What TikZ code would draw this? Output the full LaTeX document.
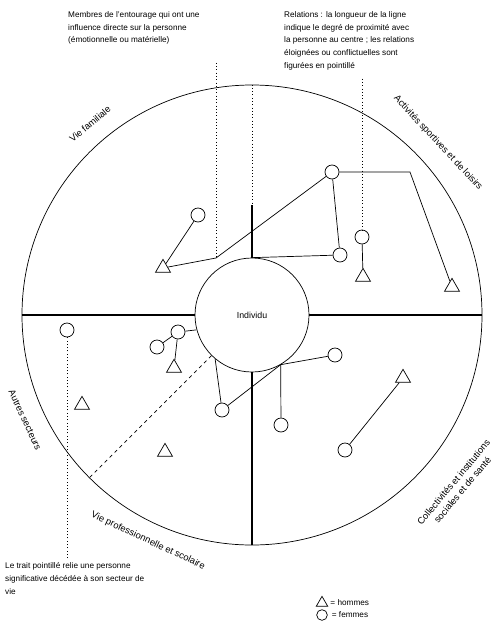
\documentclass[tikz,border=0pt]{standalone}
\usepackage{fontspec}
\setmainfont{Liberation Sans}
\usetikzlibrary{shapes.geometric,calc}

\tikzset{
  fem/.style={circle, draw, line width=0.6pt, inner sep=0pt, minimum size=4.2mm},
  hom/.style={regular polygon, regular polygon sides=3, draw, line width=0.6pt, inner sep=0pt, minimum size=5.2mm},
  link/.style={line width=0.6pt},
  guide/.style={dotted, line width=0.8pt},
  sector/.style={line width=1.1pt},
  note/.style={font=\fontsize{7}{11}\selectfont, align=left, anchor=north west, inner sep=0pt},
  arclabel/.style={font=\fontsize{8}{10}\selectfont, align=center, inner sep=0pt},
}

\begin{document}
\begin{tikzpicture}[x=0.03cm, y=-0.03cm]
  \useasboundingbox (0,0) rectangle (499,633);

  % life space and the person in the middle
  \node[circle, draw, line width=0.6pt, inner sep=0pt, minimum size=13.8cm] (space) at (252,315) {};
  \node[circle, draw, line width=0.6pt, inner sep=0pt, minimum size=3.42cm,
        font=\fontsize{7.5}{8}\selectfont] (ego) at (252,315) {Individu};

  \coordinate (split) at (252,205);
  \draw[sector] (space.west) -- (ego.west);
  \draw[sector] (space.east) -- (ego.east);
  \draw[guide] (space.north) -- (split);
  \draw[sector] (split) -- (ego.north);
  \draw[sector] (space.south) -- (ego.south);

  % sector names
  \node[arclabel, rotate=40] (lbfam) at (90,124) {Vie familiale};
  \node[arclabel, rotate=-47] (lbsport) at (438,143) {Activités sportives et de loisirs};
  \node[arclabel, rotate=-65] (lbother) at (25,420) {Autres secteurs};
  \node[arclabel, rotate=-25] (lbwork) at (148,541) {Vie professionnelle et scolaire};
  \node[arclabel, rotate=50] (lbinst) at (458,486) {Collectivités et institutions\\ sociales et de santé};

  % people
  \node[fem] (f1) at (198,215) {};
  \node[hom] (t1) at (163,268) {};
  \coordinate (j1) at (216,258);
  \node[fem] (f2) at (332,172) {};
  \coordinate (bend) at (410,172);
  \node[hom] (t2) at (452,287) {};
  \node[fem] (f3) at (340,255) {};
  \node[fem] (f4) at (362,237) {};
  \node[hom] (t3) at (363,277) {};
  \node[fem] (f5) at (67,330) {};
  \node[hom] (t4) at (82,405) {};
  \node[hom] (t5) at (165,452) {};
  \node[fem] (f6) at (157,347) {};
  \node[fem] (f7) at (178,332) {};
  \node[hom] (t6) at (174,368) {};
  \node[fem] (f8) at (222,410) {};
  \coordinate (j2) at (ego.-60);
  \node[fem] (f9) at (335,355) {};
  \node[fem] (f10) at (281,425) {};
  \node[hom] (t7) at (403,378) {};
  \node[fem] (f11) at (345,450) {};

  % relations
  \draw[link] (t1) -- (f1);
  \draw[link] (t1) -- (j1) -- (f2);
  \draw[link] (f2) -- (bend) -- (t2);
  \draw[link] (f2) -- (f3);
  \draw[link] (ego.north) -- (f3);
  \draw[link] (f4) -- (t3);
  \draw[link] (f6) -- (f7) -- (t6);
  \draw[link] (f7) -- (ego.195);
  \draw[link] (ego.230) -- (f8) -- (j2);
  \draw[link] (j2) -- (f9);
  \draw[link] (j2) -- (f10);
  \draw[link] (t7) -- (f11);
  \draw[link, dashed] (ego.225) -- (space.225);

  % notes
  \node[note] (ntl) at (68,11) {Membres de l'entourage qui ont une\\ influence directe sur la personne\\ (émotionnelle ou matérielle)};
  \node[note] (ntr) at (284,11) {Relations : la longueur de la ligne\\ indique le degré de proximité avec\\ la personne au centre ; les relations\\ éloignées ou conflictuelles sont\\ figurées en pointillé};
  \node[note] (nbl) at (5,562) {Le trait pointillé relie une personne\\ significative décédée à son secteur de\\ vie};

  \draw[guide] ($(j1 |- ntl.south)+(0,18)$) -- (j1);
  \draw[guide] ($(f4 |- ntr.south)+(0,8)$) -- (f4);
  \draw[guide] ($(f5 |- nbl.north)+(0,-4)$) -- (f5);

  % legend
  \node[hom, minimum size=4mm] (lgh) at (322,603) {};
  \node[fem, minimum size=3.2mm] (lgf) at (322,615) {};
  \node[note, anchor=west] (lght) at ($(lgh.east)+(4,0)$) {= hommes};
  \node[note, anchor=west] (lgft) at ($(lgf.east)+(4,0)$) {= femmes};
\end{tikzpicture}
\end{document}
